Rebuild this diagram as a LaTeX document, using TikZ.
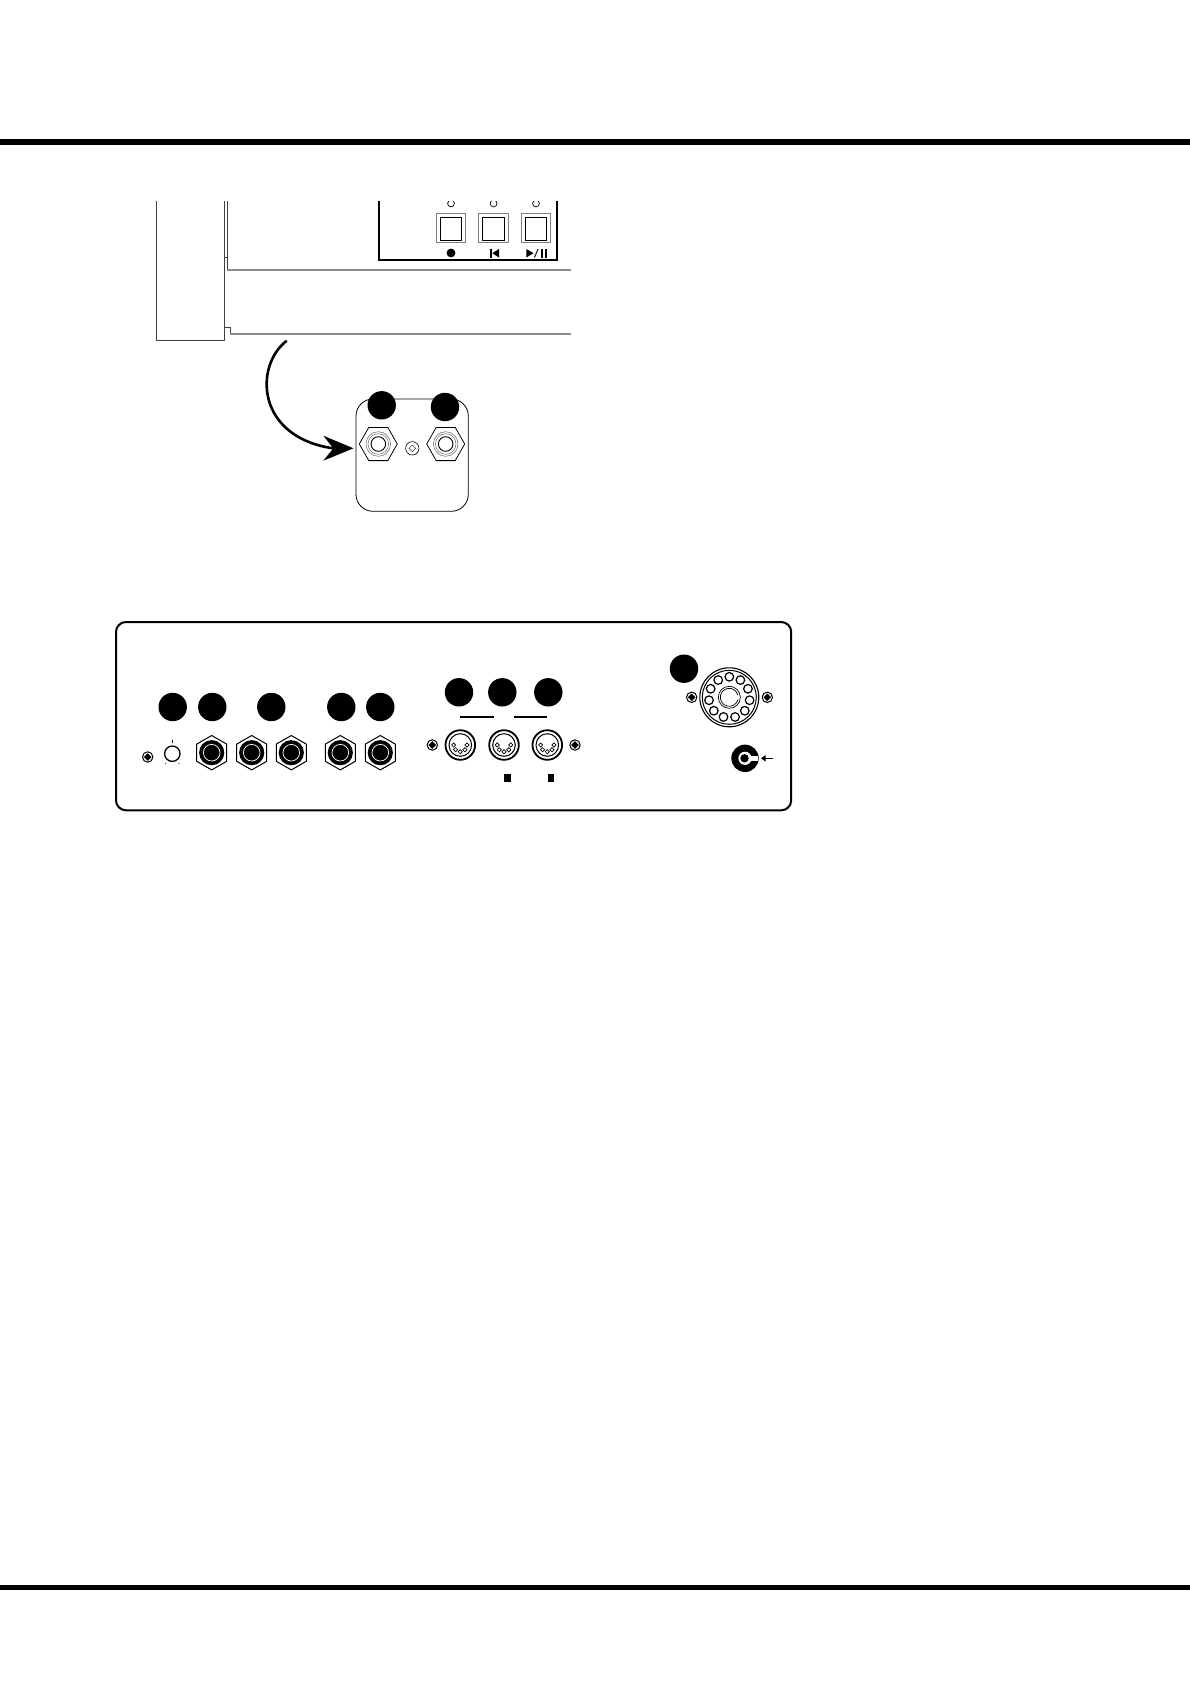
\documentclass[tikz,border=0pt]{standalone}
\usetikzlibrary{calc}
\tikzset{
  x=1pt,y=-1pt,
  thinline/.style={draw=black!75,line width=0.9pt},
  greyline/.style={draw=black!45,line width=1.5pt},
  badge/.style={circle,fill=black,draw=none,minimum size=28.4pt,inner sep=0pt},
  panelline/.style={draw=black,line width=2pt},
}
\newcommand{\keybtn}[1]{%
  \draw[draw=black!50,line width=1.1pt] (#1-14.7,213.3) rectangle (#1+14.7,242.7);
  \draw[draw=black,line width=0.9pt] (#1-10.7,217.5) rectangle (#1+10.7,240.5);
  \begin{scope}
    \clip (#1-6,201) rectangle (#1+6,210);
    \draw[line width=0.7pt] (#1,203.5) circle (3.4);
  \end{scope}
}
\newcommand{\hexjack}[2]{%
  \draw[line width=1pt,fill=white] (#1,#2-17.2) -- (#1+15,#2-8.6) -- (#1+15,#2+8.6) -- (#1,#2+17.2) -- (#1-15,#2+8.6) -- (#1-15,#2-8.6) -- cycle;
  \fill[black] (#1,#2) circle (12.6);
  \draw[white,line width=0.7pt] (#1,#2) circle (8.3);
}
\newcommand{\flatjack}[2]{%
  \draw[line width=0.8pt,fill=white] (#1-19,#2) -- (#1-9.5,#2-16.6) -- (#1+9.5,#2-16.6) -- (#1+19,#2) -- (#1+9.5,#2+16.6) -- (#1-9.5,#2+16.6) -- cycle;
  \draw[draw=black!60,line width=0.5pt] (#1,#2) circle (12.3);
  \draw[draw=black!60,line width=0.5pt] (#1,#2) circle (10.3);
  \draw[line width=0.9pt] (#1,#2) circle (7.3);
}
\newcommand{\screwhead}[2]{%
  \draw[line width=1pt] (#1,#2) circle (5.2);
  \fill[black] (#1-3.8,#2) -- (#1,#2-3.8) -- (#1+3.8,#2) -- (#1,#2+3.8) -- cycle;
}
\newcommand{\dinjack}[2]{%
  \draw[line width=1.8pt] (#1,#2) circle (14.8);
  \draw[line width=1pt] (#1,#2) circle (11.3);
  \foreach \dx/\dy in {-6.7/0,-4.7/4.7,0/6.7,4.7/4.7,6.7/0}{
    \draw[line width=0.7pt,fill=white] (#1+\dx-2.1,#2+\dy) -- (#1+\dx,#2+\dy-2.1) -- (#1+\dx+2.1,#2+\dy) -- (#1+\dx,#2+\dy+2.1) -- cycle;
  }
}
\begin{document}
\begin{tikzpicture}
\useasboundingbox (0,0) rectangle (1190,1684);
\fill[white] (0,0) rectangle (1190,1684);
% page rules
\fill[black] (0,139) rectangle (1190,144.5);
\fill[black] (0,1585) rectangle (1190,1590);

% keyboard end block
\draw[thinline] (156.5,201) -- (156.5,340.3) -- (224.3,340.3) -- (224.3,201);
\draw[thinline] (227.3,201) -- (227.3,257);
\draw[thinline] (224.3,257) -- (227.3,257) -- (227.3,270);
\draw[thinline] (224.3,327) -- (230.3,327) -- (230.3,334);
\draw[greyline] (227.3,270) -- (570.7,270);
\draw[greyline] (230.3,334) -- (570.7,334);

% control panel
\draw[panelline] (379,201) -- (379,259.7) -- (556.7,259.7) -- (556.7,201);
\keybtn{451}
\keybtn{493.6}
\keybtn{536}
\fill[black] (451,253) circle (4.4);
\fill[black] (490,249) rectangle (491.8,257.5);
\fill[black] (492.3,253.2) -- (499,249) -- (499,257.5) -- cycle;
\fill[black] (526.3,249) -- (533.5,253.2) -- (526.3,257.5) -- cycle;
\draw[line width=0.9pt] (534.5,257.5) -- (538,249);
\fill[black] (541,249) rectangle (543,257.5);
\fill[black] (544.8,249) rectangle (546.8,257.5);

% curved arrow
\coordinate (arrowstart) at (286.7,340.7);
\coordinate (arrowend) at (333,448.3);
\draw[line width=2.6pt] (arrowstart) .. controls (254,366) and (256,437) .. (arrowend);
\fill[black] (353.5,448.3) -- (323.3,435.7) -- (333.3,448.3) -- (323.3,460.7) -- cycle;

% rear jack plate
\draw[line width=0.8pt,rounded corners=17pt] (356,399) rectangle (468.3,511.3);
\node[badge] (ba) at (381.7,405.3) {};
\node[badge] (bb) at (445,407) {};
\flatjack{378.3}{444}
\flatjack{445.7}{444}
\draw[line width=0.6pt] (412.3,448.3) circle (6.7);
\draw[line width=0.4pt] (409,448.3) -- (412.3,445) -- (415.6,448.3) -- (412.3,451.6) -- cycle;

% main panel
\draw[line width=2pt,rounded corners=10pt] (116,622) rectangle (791.2,810.3);
\node[badge] (c1) at (172.7,707) {};
\node[badge] (c2) at (212.3,707) {};
\node[badge] (c3) at (271.3,707) {};
\node[badge] (c4) at (341.3,707) {};
\node[badge] (c5) at (380.3,707) {};
\node[badge] (d1) at (459,692.3) {};
\node[badge] (d2) at (502.3,692.3) {};
\node[badge] (d3) at (548.3,692.3) {};
\node[badge] (e1) at (684,668.7) {};

\screwhead{147.7}{757}
\draw[line width=1.3pt] (172.3,753.7) circle (7.7);
\draw[line width=0.5pt] (172.3,739.5) -- (172.3,742.5);
\draw[line width=0.5pt] (166,763) -- (165,764);
\draw[line width=0.5pt] (178.6,763) -- (179.6,764);

\hexjack{211.7}{752.7}
\hexjack{251.7}{752.7}
\hexjack{291.3}{752.7}
\hexjack{340.3}{752.7}
\hexjack{380.3}{752.7}

\draw[line width=1.3pt] (460,717) -- (494,717);
\draw[line width=1.3pt] (514,717) -- (547,717);
\screwhead{432.3}{745}
\dinjack{460.3}{745}
\dinjack{504}{745}
\dinjack{547.3}{745}
\screwhead{575}{745}
\fill[black] (504,774.2) rectangle (510.6,782);
\fill[black] (548,774.2) rectangle (554,782);

% multi-pin connector
\draw[line width=1.1pt] (729.3,697.3) circle (29.5);
\draw[line width=1pt] (729.3,697.3) circle (27);
\foreach \a in {-90,-57.3,-24.5,8.2,40.9,73.6,106.4,139.1,171.8,204.5,237.3}{
  \draw[line width=1.2pt,fill=white] (729.3,697.3) ++(\a:20.5) circle (4.3);
}
\draw[line width=0.7pt] (729.3,697.3) circle (11);
\draw[line width=0.7pt] ([shift={(15:9)}]729.3,697.3) arc[start angle=15,end angle=345,radius=9];
\screwhead{691.7}{697.3}
\screwhead{767.3}{697.3}

% power inlet
\fill[black] (745,758.3) circle (13.7);
\fill[white] (745,758.3) circle (6.6);
\fill[white] (749,755.8) rectangle (757.5,760.8);
\fill[black] (744.5,758.3) circle (4.2);
\draw[line width=1.4pt] (772.7,758.3) -- (764,758.3);
\fill[black] (761,758.3) -- (765.5,755.1) -- (765.5,761.5) -- cycle;
\end{tikzpicture}
\end{document}
